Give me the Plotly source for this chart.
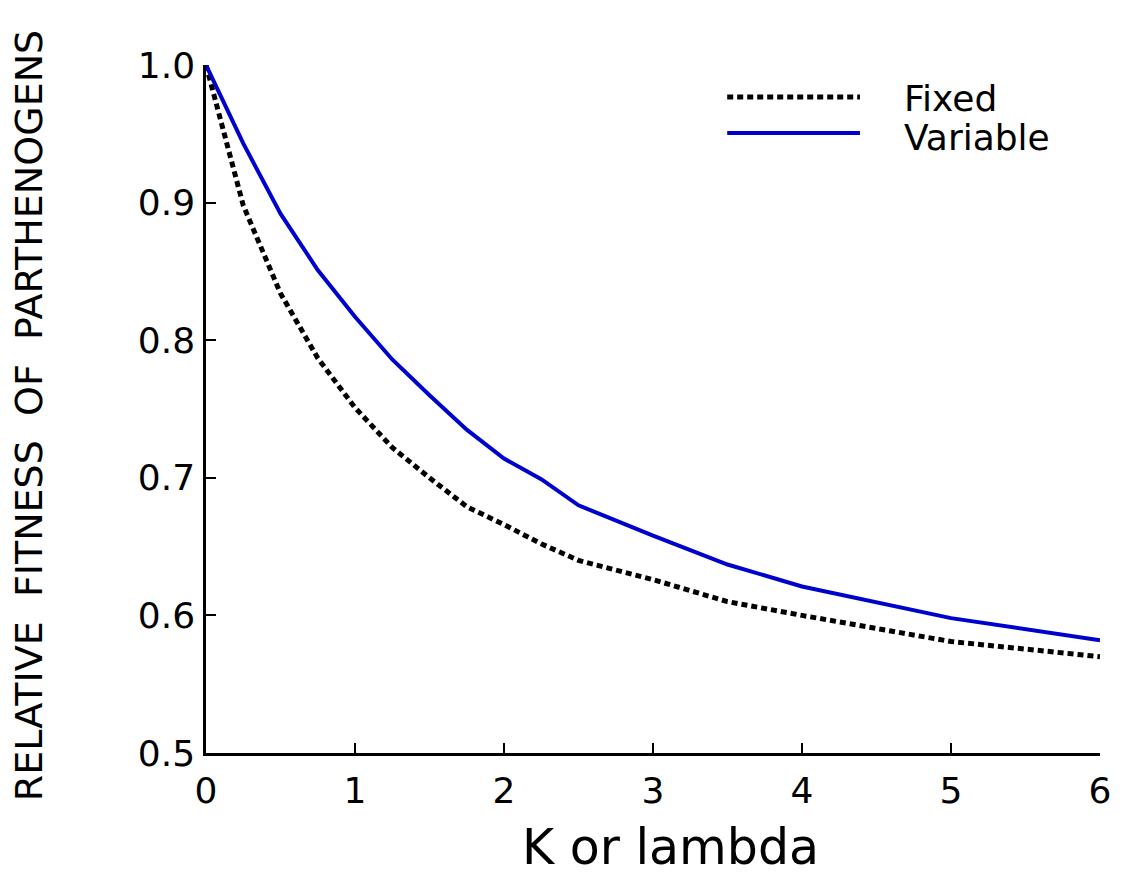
import plotly.graph_objects as go

x_fixed = [0, 0.25, 0.5, 0.75, 1, 1.25, 1.5, 1.75, 2, 2.25, 2.5, 3, 3.5, 4, 5, 6]
y_fixed = [1.0, 0.898, 0.834, 0.787, 0.751, 0.722, 0.700, 0.679, 0.666, 0.652, 0.640, 0.626, 0.610, 0.600, 0.581, 0.570]

x_var = [0, 0.25, 0.5, 0.75, 1, 1.25, 1.5, 1.75, 2, 2.25, 2.5, 2.75, 3, 3.5, 4, 5, 6]
y_var = [1.0, 0.943, 0.892, 0.851, 0.817, 0.786, 0.760, 0.735, 0.714, 0.699, 0.680, 0.669, 0.658, 0.637, 0.621, 0.598, 0.582]

x_ticks = [0, 1, 2, 3, 4, 5, 6]
y_ticks = [0.5, 0.6, 0.7, 0.8, 0.9, 1.0]
y_tick_labels = ["0.5", "0.6", "0.7", "0.8", "0.9", "1.0"]

FONT = "DejaVu Sans, Liberation Sans, Arial, sans-serif"

fig = go.Figure()
fig.add_trace(go.Scatter(x=x_fixed, y=y_fixed, mode="lines", name="Fixed",
                         line=dict(color="black", width=5, dash="6px,4px")))
fig.add_trace(go.Scatter(x=x_var, y=y_var, mode="lines", name="Variable",
                         line=dict(color="#0000cc", width=4)))

# legend drawn manually
fig.add_shape(type="line", xref="paper", yref="paper", x0=0.583, x1=0.7315, y0=0.9535, y1=0.9535,
              line=dict(color="black", width=5, dash="6px,4px"))
fig.add_shape(type="line", xref="paper", yref="paper", x0=0.583, x1=0.7315, y0=0.901, y1=0.901,
              line=dict(color="#0000cc", width=4))
fig.add_annotation(text="Fixed", xref="paper", yref="paper", x=0.779, y=0.951, xanchor="left",
                   yanchor="middle", showarrow=False, font=dict(family=FONT, size=36, color="black"))
fig.add_annotation(text="Variable", xref="paper", yref="paper", x=0.779, y=0.895, xanchor="left",
                   yanchor="middle", showarrow=False, font=dict(family=FONT, size=36, color="black"))

# axis titles
fig.add_annotation(text="K or lambda", xref="paper", yref="paper", x=0.52, y=-0.138, xanchor="center",
                   yanchor="middle", showarrow=False, font=dict(family=FONT, size=49, color="black"))
fig.add_annotation(text="RELATIVE &nbsp;FITNESS &nbsp;OF &nbsp;PARTHENOGENS", xref="paper", yref="paper",
                   x=-0.198, y=0.491, xanchor="center", yanchor="middle", textangle=-90, showarrow=False,
                   font=dict(family=FONT, size=38, color="black"))

fig.update_layout(
    width=1119, height=871,
    margin=dict(l=198, r=27, t=57, b=126),
    paper_bgcolor="white", plot_bgcolor="white",
    showlegend=False,
    font=dict(family=FONT, color="black"),
)
fig.update_xaxes(range=[0, 6], tickvals=x_ticks, ticks="inside", ticklen=10, tickwidth=2,
                 tickcolor="black", showline=True, linecolor="black", linewidth=2.5,
                 showgrid=False, zeroline=False, ticklabelstandoff=4,
                 tickfont=dict(size=36, family=FONT, color="black"))
fig.update_yaxes(range=[0.5, 1.0], tickvals=y_ticks, ticktext=y_tick_labels, ticks="inside",
                 ticklen=10, tickwidth=2, tickcolor="black", showline=True, linecolor="black",
                 linewidth=2.5, showgrid=False, zeroline=False, ticklabelstandoff=1,
                 tickfont=dict(size=36, family=FONT, color="black"))

fig.write_html("out.html")
